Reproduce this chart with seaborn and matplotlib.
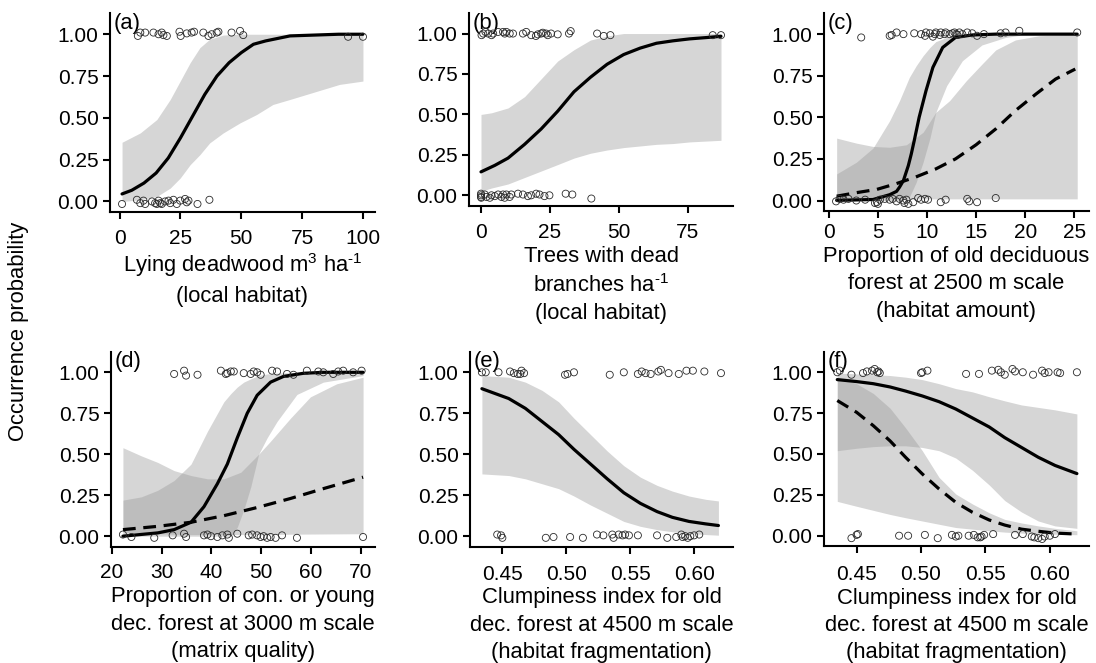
import matplotlib
matplotlib.use("Agg")
import matplotlib.pyplot as plt
import seaborn as sns
import numpy as np
from matplotlib.ticker import FormatStrFormatter

# ---------------- data ----------------
# Panel (a)
a_curve_x = [1, 5, 10, 15, 20, 25, 30, 35, 40, 45, 50, 55, 60, 70, 80, 90, 100]
a_curve_y = [0.045, 0.067, 0.11, 0.17, 0.26, 0.38, 0.51, 0.64, 0.75, 0.83, 0.89, 0.94, 0.96, 0.99, 0.995, 1.0, 1.0]
a_rib_x = [1, 8.5, 15.3, 20.8, 24.9, 29, 33, 37, 42.6, 49.5, 56.3, 63, 70, 76.8, 83.6, 90.4, 100]
a_rib_hi = [0.354, 0.41, 0.49, 0.61, 0.72, 0.83, 0.92, 0.97, 0.995, 1.0, 1.0, 1.0, 1.0, 1.0, 1.0, 1.0, 1.0]
a_rib_lo = [0.0, 0.01, 0.03, 0.08, 0.14, 0.22, 0.28, 0.35, 0.41, 0.47, 0.52, 0.58, 0.61, 0.64, 0.67, 0.70, 0.72]
a_pts1_x = [7.5, 8.5, 10.5, 13.9, 16, 17.3, 18, 19.4, 24.6, 25.1, 27.6, 29.6, 30.6, 34.4, 36.5, 37.8, 39.9, 40.6, 46, 49.5, 50.8, 93.9, 100]
a_pts1_y = [0.99, 1.01, 1.01, 1.01, 1.0, 1.01, 0.995, 0.99, 1.015, 0.99, 1.005, 1.01, 1.015, 1.01, 0.99, 1.0, 1.01, 1.015, 1.01, 1.02, 0.995, 0.985, 0.985]
a_pts0_x = [1.0, 7.1, 8.5, 9.8, 10.5, 13.3, 14.6, 15.3, 16, 16.7, 17.3, 18.7, 20.1, 20.8, 22.1, 23.5, 24.9, 26.9, 27.6, 28.3, 32, 36.9]
a_pts0_y = [-0.015, 0.01, -0.01, 0.005, -0.015, 0.0, -0.01, -0.015, 0.005, -0.01, -0.015, 0.0, 0.005, -0.01, 0.01, -0.015, 0.005, 0.015, -0.005, 0.005, -0.015, 0.01]

# Panel (b)
b_curve_x = [0, 5, 9.8, 15.8, 21.8, 27.8, 33.7, 39.7, 45.7, 51.7, 57.7, 63.6, 69.6, 75.6, 81.6, 87]
b_curve_y = [0.145, 0.185, 0.23, 0.315, 0.41, 0.52, 0.64, 0.73, 0.81, 0.87, 0.91, 0.94, 0.955, 0.967, 0.975, 0.983]
b_rib_x = [0, 3.8, 9.8, 15.8, 21.8, 27.8, 33.7, 39.7, 45.7, 51.7, 57.7, 63.6, 69.6, 75.6, 87]
b_rib_hi = [0.50, 0.51, 0.54, 0.61, 0.72, 0.83, 0.90, 0.96, 0.985, 1.0, 1.0, 1.0, 1.0, 1.0, 1.0]
b_rib_lo = [0.025, 0.045, 0.07, 0.11, 0.15, 0.19, 0.23, 0.26, 0.28, 0.295, 0.305, 0.315, 0.32, 0.33, 0.34]
b_pts1_x = [0.2, 0.8, 1.6, 2.6, 3.8, 4.4, 6.2, 8.0, 8.6, 9.2, 10.4, 11.6, 15.2, 16.4, 18.2, 19.9, 20.6, 21.8, 22.4, 23.6, 24.2, 25.4, 27.8, 31.9, 32.5, 42.1, 44.5, 46.9, 84, 87]
b_pts1_y = [0.99, 1.0, 1.01, 1.0, 0.99, 1.0, 1.01, 1.01, 1.0, 1.01, 1.0, 1.0, 1.0, 1.01, 0.99, 0.985, 0.995, 1.0, 1.005, 1.0, 0.99, 1.0, 0.995, 1.0, 1.015, 1.0, 0.985, 0.99, 0.99, 0.99]
b_pts0_x = [0, 0, 0, 0.1, 1.4, 2, 3.2, 3.8, 5, 6.2, 7.4, 8, 8.6, 9.2, 10.4, 11, 13.4, 15.2, 17, 18.2, 20, 21.2, 23, 24.8, 30.7, 33.1, 40]
b_pts0_y = [0.0, -0.01, 0.01, -0.015, 0.005, -0.01, -0.015, 0.0, -0.005, 0.005, -0.01, 0.005, -0.015, 0.005, -0.01, 0.005, 0.01, 0.005, -0.005, 0.0, 0.01, 0.005, -0.005, 0.0, 0.01, 0.005, -0.02]

# Panel (c)
c_solid_x = [0.8, 4.5, 6.2, 6.9, 7.2, 7.6, 8.1, 8.4, 8.7, 9.2, 9.9, 10.6, 11.6, 12.9, 14.6, 17, 20, 25.3]
c_solid_y = [0.001, 0.006, 0.035, 0.055, 0.08, 0.12, 0.21, 0.28, 0.36, 0.50, 0.66, 0.80, 0.92, 0.98, 0.995, 1.0, 1.0, 1.0]
c_dash_x = [0.8, 2.8, 4.9, 6.8, 8.8, 10.9, 12.9, 15, 17, 19, 21.1, 23.1, 25.1]
c_dash_y = [0.026, 0.047, 0.067, 0.10, 0.14, 0.19, 0.25, 0.335, 0.43, 0.54, 0.64, 0.73, 0.79]
c_rib1_x = [0.8, 2.8, 4.5, 6.2, 7.2, 8.2, 8.9, 9.6, 10.3, 10.9, 12.0, 13.6, 15.6, 18.0, 19.7, 25.3]
c_rib1_hi = [0.16, 0.23, 0.315, 0.48, 0.60, 0.74, 0.81, 0.87, 0.92, 0.955, 0.98, 1.0, 1.0, 1.0, 1.0, 1.0]
c_rib1_lo = [0.0, 0.0, 0.0, 0.0, 0.0, 0.02, 0.11, 0.23, 0.375, 0.53, 0.69, 0.84, 0.935, 0.98, 0.995, 1.0]
c_rib2_x = [0.8, 2.8, 4.5, 6.2, 7.9, 9.6, 10.9, 12.3, 14.0, 15.6, 17.0, 19.0, 21.4, 25.3]
c_rib2_hi = [0.375, 0.345, 0.325, 0.32, 0.335, 0.41, 0.53, 0.60, 0.72, 0.82, 0.905, 0.965, 0.99, 1.0]
c_rib2_lo = [0.005, 0.005, 0.008, 0.01, 0.01, 0.01, 0.01, 0.01, 0.01, 0.01, 0.01, 0.01, 0.01, 0.01]
c_pts1_x = [3.3, 6.2, 6.4, 6.9, 7.6, 8.7, 9.4, 9.8, 9.9, 10.3, 10.6, 10.8, 10.9, 11.3, 11.4, 11.8, 11.9, 12.3, 12.6, 12.8, 13.0, 13.1, 13.3, 13.6, 14.1, 14.6, 15.1, 15.8, 17.5, 18.0, 19.4, 25.3]
c_pts1_y = [0.98, 0.99, 0.995, 1.01, 1.0, 1.005, 1.0, 0.99, 1.01, 1.005, 0.985, 1.0, 1.01, 0.995, 1.01, 1.0, 1.01, 1.0, 1.005, 1.01, 1.0, 0.995, 1.01, 1.0, 1.01, 1.005, 0.99, 1.0, 1.005, 1.01, 1.02, 1.01]
c_pts0_x = [0.74, 1.1, 1.5, 2.0, 2.8, 3.7, 4.7, 4.9, 5.0, 5.2, 5.7, 6.2, 6.5, 6.9, 7.2, 7.6, 7.7, 7.9, 8.1, 8.6, 9.1, 9.4, 9.8, 10.1, 11.4, 11.9, 14.1, 14.3, 15.1, 17.0]
c_pts0_y = [-0.005, 0.01, 0.005, 0.01, 0.0, 0.005, -0.015, -0.01, -0.02, 0.005, 0.01, 0.005, 0.01, -0.005, 0.01, 0.0, -0.015, 0.005, -0.02, -0.01, 0.015, 0.005, 0.01, 0.005, -0.01, 0.005, 0.01, -0.005, -0.01, 0.015]

# Panel (d)
d_solid_x = [22.2, 29.2, 32.5, 35.9, 38.5, 41.2, 43.2, 45.2, 47.2, 49.2, 51.9, 54.5, 58.5, 62.5, 70.5]
d_solid_y = [0.0, 0.02, 0.04, 0.085, 0.18, 0.32, 0.44, 0.60, 0.75, 0.86, 0.94, 0.975, 0.994, 1.0, 1.0]
d_dash_x = [22.2, 29.2, 35.9, 42.5, 49.2, 55.9, 62.5, 70.5]
d_dash_y = [0.04, 0.06, 0.085, 0.125, 0.175, 0.23, 0.29, 0.36]
d_rib1_x = [22.2, 25.9, 29.2, 32.5, 35.9, 39.2, 42.5, 43.9, 45.2, 46.5, 47.9, 49.5, 51.2, 53.2, 57.2, 62.5, 70.5]
d_rib1_hi = [0.22, 0.24, 0.28, 0.34, 0.44, 0.64, 0.82, 0.87, 0.91, 0.94, 0.96, 0.98, 0.99, 0.995, 1.0, 1.0, 1.0]
d_rib1_lo = [0.0, 0.0, 0.0, 0.0, 0.0, 0.0, 0.0, 0.0, 0.055, 0.16, 0.30, 0.50, 0.60, 0.70, 0.865, 0.94, 0.98]
d_rib2_x = [22.2, 25.9, 29.2, 32.5, 35.9, 39.2, 42.5, 45.9, 49.5, 51.9, 55.9, 59.9, 65.2, 70.5]
d_rib2_hi = [0.54, 0.49, 0.45, 0.40, 0.37, 0.35, 0.35, 0.39, 0.50, 0.58, 0.72, 0.85, 0.93, 0.97]
d_rib2_lo = [0.025, 0.02, 0.015, 0.012, 0.01, 0.01, 0.01, 0.01, 0.01, 0.01, 0.012, 0.013, 0.014, 0.015]
d_pts1_x = [32.5, 34.5, 34.9, 37.2, 41.9, 42.9, 43.2, 43.9, 44.5, 46.5, 47.9, 48.5, 49.2, 49.9, 52.2, 53.2, 55.2, 56.5, 59.2, 61.5, 62.5, 64.5, 65.5, 66.5, 68.5, 70.2]
d_pts1_y = [0.99, 1.01, 0.98, 0.985, 1.01, 0.99, 0.995, 1.005, 1.005, 0.995, 0.99, 1.005, 1.0, 0.985, 1.01, 1.005, 0.99, 0.985, 1.01, 1.005, 1.0, 0.99, 1.005, 1.01, 1.0, 1.01]
d_pts0_x = [22.2, 23.9, 28.5, 32.2, 34.5, 34.9, 38.5, 39.2, 39.9, 41.2, 42.2, 43.2, 43.5, 45.2, 47.5, 48.2, 49.2, 49.9, 50.5, 51.2, 51.9, 52.9, 54.2, 57.2, 70.5]
d_pts0_y = [0.01, -0.005, -0.01, 0.005, 0.015, -0.005, 0.005, 0.01, 0.0, -0.005, 0.005, 0.01, -0.01, 0.015, 0.005, 0.01, 0.005, -0.005, 0.0, -0.01, -0.005, -0.01, 0.005, -0.01, -0.005]

# Panel (e)
e_x = [0.434, 0.455, 0.468, 0.481, 0.494, 0.506, 0.519, 0.532, 0.545, 0.558, 0.571, 0.583, 0.596, 0.609, 0.619]
e_curve_y = [0.90, 0.84, 0.78, 0.70, 0.62, 0.53, 0.44, 0.35, 0.265, 0.20, 0.15, 0.115, 0.09, 0.075, 0.065]
e_rib_hi = [0.98, 0.97, 0.94, 0.89, 0.82, 0.72, 0.62, 0.52, 0.43, 0.36, 0.31, 0.275, 0.245, 0.225, 0.215]
e_rib_lo = [0.38, 0.37, 0.35, 0.32, 0.29, 0.245, 0.19, 0.14, 0.09, 0.06, 0.04, 0.027, 0.016, 0.01, 0.006]
e_pts1_x = [0.434, 0.437, 0.447, 0.456, 0.459, 0.462, 0.464, 0.465, 0.467, 0.499, 0.501, 0.506, 0.534, 0.545, 0.556, 0.559, 0.562, 0.566, 0.572, 0.574, 0.580, 0.588, 0.594, 0.599, 0.608, 0.621]
e_pts1_y = [1.0, 1.0, 1.0, 1.005, 0.995, 0.99, 0.99, 1.01, 0.995, 0.985, 0.99, 1.0, 0.985, 1.0, 0.99, 1.005, 0.995, 0.99, 1.005, 1.015, 0.995, 0.99, 1.01, 1.01, 1.005, 0.995]
e_pts0_x = [0.446, 0.449, 0.450, 0.484, 0.490, 0.503, 0.513, 0.524, 0.529, 0.536, 0.537, 0.541, 0.544, 0.546, 0.549, 0.556, 0.571, 0.579, 0.586, 0.590, 0.591, 0.593, 0.595, 0.597, 0.600, 0.604]
e_pts0_y = [0.01, 0.005, -0.01, -0.01, -0.005, -0.005, -0.01, 0.01, 0.005, 0.01, -0.01, 0.01, 0.005, 0.01, 0.005, 0.005, 0.005, -0.01, -0.005, 0.01, -0.005, 0.0, -0.01, 0.0, 0.005, 0.01]

# Panel (f)
f_x = [0.435, 0.450, 0.463, 0.476, 0.488, 0.501, 0.514, 0.527, 0.540, 0.553, 0.565, 0.578, 0.591, 0.604, 0.621]
f_solid_y = [0.955, 0.943, 0.93, 0.91, 0.885, 0.855, 0.82, 0.775, 0.72, 0.665, 0.60, 0.54, 0.48, 0.43, 0.38]
f_dash_y = [0.827, 0.755, 0.673, 0.58, 0.48, 0.378, 0.286, 0.204, 0.143, 0.096, 0.065, 0.04, 0.027, 0.016, 0.01]
f_rib1_hi = [0.995, 0.99, 0.985, 0.98, 0.97, 0.955, 0.93, 0.90, 0.88, 0.85, 0.825, 0.80, 0.785, 0.77, 0.745]
f_rib1_lo = [0.52, 0.535, 0.545, 0.55, 0.55, 0.54, 0.52, 0.475, 0.40, 0.31, 0.215, 0.145, 0.09, 0.06, 0.045]
f_rib2_hi = [0.97, 0.93, 0.87, 0.78, 0.66, 0.52, 0.357, 0.255, 0.194, 0.14, 0.10, 0.078, 0.06, 0.045, 0.03]
f_rib2_lo = [0.21, 0.18, 0.155, 0.13, 0.11, 0.09, 0.07, 0.05, 0.04, 0.03, 0.022, 0.016, 0.012, 0.009, 0.006]
f_pts1_x = [0.435, 0.437, 0.446, 0.455, 0.458, 0.462, 0.464, 0.466, 0.467, 0.468, 0.500, 0.501, 0.505, 0.535, 0.545, 0.555, 0.560, 0.562, 0.565, 0.571, 0.573, 0.579, 0.587, 0.594, 0.596, 0.599, 0.606, 0.608, 0.621]
f_pts1_y = [1.0, 1.01, 0.985, 0.995, 1.005, 1.01, 1.02, 1.0, 1.005, 0.995, 0.995, 1.0, 1.01, 0.99, 0.99, 1.01, 1.015, 1.0, 0.985, 1.02, 1.005, 1.0, 0.985, 1.01, 0.995, 1.0, 1.0, 0.995, 1.0]
f_pts0_x = [0.446, 0.450, 0.451, 0.483, 0.490, 0.503, 0.513, 0.524, 0.527, 0.529, 0.537, 0.541, 0.544, 0.546, 0.547, 0.549, 0.556, 0.573, 0.579, 0.586, 0.588, 0.591, 0.594, 0.596, 0.600, 0.604]
f_pts0_y = [-0.015, 0.005, 0.01, 0.0, 0.0, 0.005, -0.015, 0.005, -0.005, 0.0, 0.0, 0.005, -0.01, -0.01, -0.005, 0.005, 0.01, 0.005, 0.01, -0.005, -0.01, -0.015, -0.02, -0.005, 0.0, 0.01]

panel_letters = ["(a)", "(b)", "(c)", "(d)", "(e)", "(f)"]
x_labels = [
    "Lying deadwood m$^{3}$ ha$^{\\text{-}1}$\n(local habitat)",
    "Trees with dead\nbranches ha$^{\\text{-}1}$\n(local habitat)",
    "Proportion of old deciduous\nforest at 2500 m scale\n(habitat amount)",
    "Proportion of con. or young\ndec. forest at 3000 m scale\n(matrix quality)",
    "Clumpiness index for old\ndec. forest at 4500 m scale\n(habitat fragmentation)",
    "Clumpiness index for old\ndec. forest at 4500 m scale\n(habitat fragmentation)",
]
x_ticks = [
    [0, 25, 50, 75, 100],
    [0, 25, 50, 75],
    [0, 5, 10, 15, 20, 25],
    [20, 30, 40, 50, 60, 70],
    [0.45, 0.50, 0.55, 0.60],
    [0.45, 0.50, 0.55, 0.60],
]
y_ticks = [0.0, 0.25, 0.5, 0.75, 1.0]
y_label = "Occurrence probability"

# ---------------- style ----------------
sns.set_style("ticks")
plt.rcParams["font.family"] = ["Liberation Sans", "DejaVu Sans"]
plt.rcParams["mathtext.fontset"] = "custom"
plt.rcParams["mathtext.rm"] = "Liberation Sans"
plt.rcParams["mathtext.it"] = "Liberation Sans:italic"
plt.rcParams["mathtext.default"] = "regular"
plt.rcParams["text.color"] = "black"
plt.rcParams["axes.labelcolor"] = "black"

W, H = 1096, 663
fig = plt.figure(figsize=(W / 100, H / 100), dpi=100)

# axes boxes in pixels: left, right, top, bottom
boxes = [
    (110, 375, 13, 212),
    (469, 733, 13, 205.5),
    (824, 1089, 13, 211),
    (111, 375, 351.5, 546.5),
    (470, 733, 351.5, 546.5),
    (824, 1089, 351.5, 546),
]
xlims = [(-3.95, 104.95), (-4.35, 91.35), (-0.49, 26.5), (19.8, 72.9), (0.4247, 0.6304), (0.4247, 0.6304)]
ylim = (-0.063, 1.127)
xpads = [7.4, 7.6, 3.8, 7.2, 8.0, 8.6]
label_pads = [2.2, 2.7, 2.7, 2.7, 2.7, 2.7]

RIB = "#999999"
RA = 0.4
LW = 2.3
DASH = (0, (4, 2.4))
PT = dict(marker="o", facecolor="none", edgecolor="#2a2a2a", s=26, linewidth=0.6, legend=False)
FS_LAB = 15.8
FS_TICK = 15

axes = []
for (l, r, t, b) in boxes:
    ax = fig.add_axes([l / W, (H - b) / H, (r - l) / W, (b - t) / H])
    axes.append(ax)


def points(ax, x1, y1, x0, y0):
    sns.scatterplot(x=x1, y=y1, ax=ax, zorder=4, **PT)
    sns.scatterplot(x=x0, y=y0, ax=ax, zorder=4, **PT)


# (a)
ax = axes[0]
ax.fill_between(a_rib_x, a_rib_lo, a_rib_hi, color=RIB, alpha=RA, lw=0)
sns.lineplot(x=a_curve_x, y=a_curve_y, ax=ax, color="black", lw=LW)
points(ax, a_pts1_x, a_pts1_y, a_pts0_x, a_pts0_y)

# (b)
ax = axes[1]
ax.fill_between(b_rib_x, b_rib_lo, b_rib_hi, color=RIB, alpha=RA, lw=0)
sns.lineplot(x=b_curve_x, y=b_curve_y, ax=ax, color="black", lw=LW)
points(ax, b_pts1_x, b_pts1_y, b_pts0_x, b_pts0_y)

# (c)
ax = axes[2]
ax.fill_between(c_rib1_x, c_rib1_lo, c_rib1_hi, color=RIB, alpha=RA, lw=0)
ax.fill_between(c_rib2_x, c_rib2_lo, c_rib2_hi, color=RIB, alpha=RA, lw=0)
sns.lineplot(x=c_solid_x, y=c_solid_y, ax=ax, color="black", lw=LW)
sns.lineplot(x=c_dash_x, y=c_dash_y, ax=ax, color="black", lw=LW, linestyle=DASH)
points(ax, c_pts1_x, c_pts1_y, c_pts0_x, c_pts0_y)

# (d)
ax = axes[3]
ax.fill_between(d_rib1_x, d_rib1_lo, d_rib1_hi, color=RIB, alpha=RA, lw=0)
ax.fill_between(d_rib2_x, d_rib2_lo, d_rib2_hi, color=RIB, alpha=RA, lw=0)
sns.lineplot(x=d_solid_x, y=d_solid_y, ax=ax, color="black", lw=LW)
sns.lineplot(x=d_dash_x, y=d_dash_y, ax=ax, color="black", lw=LW, linestyle=DASH)
points(ax, d_pts1_x, d_pts1_y, d_pts0_x, d_pts0_y)

# (e)
ax = axes[4]
ax.fill_between(e_x, e_rib_lo, e_rib_hi, color=RIB, alpha=RA, lw=0)
sns.lineplot(x=e_x, y=e_curve_y, ax=ax, color="black", lw=LW)
points(ax, e_pts1_x, e_pts1_y, e_pts0_x, e_pts0_y)

# (f)
ax = axes[5]
ax.fill_between(f_x, f_rib1_lo, f_rib1_hi, color=RIB, alpha=RA, lw=0)
ax.fill_between(f_x, f_rib2_lo, f_rib2_hi, color=RIB, alpha=RA, lw=0)
sns.lineplot(x=f_x, y=f_solid_y, ax=ax, color="black", lw=LW)
sns.lineplot(x=f_x, y=f_dash_y, ax=ax, color="black", lw=LW, linestyle=DASH)
points(ax, f_pts1_x, f_pts1_y, f_pts0_x, f_pts0_y)

for i, ax in enumerate(axes):
    ax.set_xlim(*xlims[i])
    ax.set_ylim(*ylim)
    ax.set_xticks(x_ticks[i])
    ax.set_yticks(y_ticks)
    ax.yaxis.set_major_formatter(FormatStrFormatter("%.2f"))
    if i >= 4:
        ax.xaxis.set_major_formatter(FormatStrFormatter("%.2f"))
    sns.despine(ax=ax)
    for s in ("left", "bottom"):
        ax.spines[s].set_linewidth(1.5)
        ax.spines[s].set_color("black")
    ax.tick_params(axis="both", length=5, width=1.5, color="black",
                   labelsize=FS_TICK, labelcolor="black", direction="out")
    ax.tick_params(axis="y", pad=3.2)
    ax.tick_params(axis="x", pad=xpads[i])
    ax.set_xlabel(x_labels[i], fontsize=FS_LAB, labelpad=label_pads[i], linespacing=1.4)
    ax.set_ylabel("")
    ax.text(0.012, 1.0, panel_letters[i], transform=ax.transAxes, fontsize=FS_LAB,
            ha="left", va="top")

fig.text(0.0165, 0.5, y_label, rotation=90, fontsize=FS_LAB, ha="center", va="center")

fig.savefig("out.png", dpi=100)
